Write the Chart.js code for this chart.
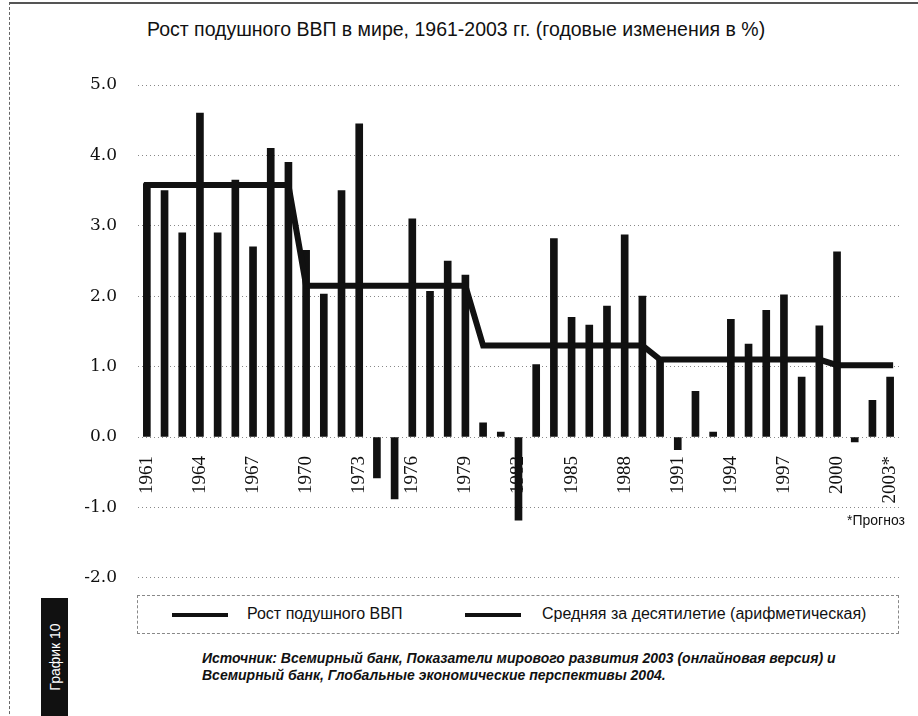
<!DOCTYPE html>
<html>
<head>
<meta charset="utf-8">
<script src="https://cdn.jsdelivr.net/npm/chart.js@4.4.0/dist/chart.umd.min.js"></script>
<style>
  body { margin: 0; background: #fff; font-family: "Liberation Sans", Arial, sans-serif; color: #111; }
  #wrap { position: relative; width: 918px; height: 716px; overflow: hidden; }
  #frame { position: absolute; left: 9px; top: 2px; width: 930px; height: 760px; border-left: 1px dashed #666; border-top: 2px solid #555; }
  #title { position: absolute; left: 147px; top: 18px; font-size: 19.5px; white-space: nowrap; }
  #box { position: absolute; left: 0; top: 0; width: 932px; height: 609px; }
  #legend { position: absolute; left: 137px; top: 595px; width: 760px; height: 37px; border: 1px dashed #888; background: #fff; }
  .sample { position: absolute; top: 17px; height: 4px; background: #111; }
  .ltext { position: absolute; top: 9px; font-size: 16px; white-space: nowrap; }
  #note { position: absolute; right: 13px; top: 512px; font-size: 14px; }
  #src { position: absolute; left: 202px; top: 650px; font-size: 14px; font-style: italic; font-weight: bold; line-height: 17px; white-space: nowrap; }
  #tag { position: absolute; left: 41px; top: 598px; width: 27px; height: 118px; background: #111; }
  #tag span { position: absolute; left: 50%; top: 50%; transform: translate(-50%, -50%) rotate(-90deg); color: #fff; font-size: 14px; white-space: nowrap; }
</style>
</head>
<body>
<div id="wrap">
  <div id="frame"></div>
  <div id="title">Рост подушного ВВП в мире, 1961-2003 гг. (годовые изменения в %)</div>
  <div id="box"><canvas id="chart"></canvas></div>
  <div id="note">*Прогноз</div>
  <div id="legend">
    <div class="sample" style="left:34px;width:56px"></div>
    <div class="ltext" style="left:109px">Рост подушного ВВП</div>
    <div class="sample" style="left:327px;width:56px"></div>
    <div class="ltext" style="left:404px">Средняя за десятилетие (арифметическая)</div>
  </div>
  <div id="src">Источник: Всемирный банк, Показатели мирового развития 2003 (онлайновая версия) и<br>Всемирный банк, Глобальные экономические перспективы 2004.</div>
  <div id="tag"><span>График 10</span></div>
</div>
<script>
// годы 1961-2003 (2003 - прогноз)
const years = ['1961','1962','1963','1964','1965','1966','1967','1968','1969','1970',
  '1971','1972','1973','1974','1975','1976','1977','1978','1979','1980',
  '1981','1982','1983','1984','1985','1986','1987','1988','1989','1990',
  '1991','1992','1993','1994','1995','1996','1997','1998','1999','2000',
  '2001','2002','2003*'];

// рост подушного ВВП, % в год
const growth = [3.6, 3.5, 2.9, 4.6, 2.9, 3.65, 2.7, 4.1, 3.9, 2.65,
  2.03, 3.5, 4.45, -0.58, -0.88, 3.1, 2.07, 2.5, 2.3, 0.2,
  0.07, -1.18, 1.03, 2.82, 1.7, 1.59, 1.86, 2.87, 2.0, 1.12,
  -0.18, 0.65, 0.07, 1.67, 1.32, 1.8, 2.02, 0.85, 1.58, 2.63,
  -0.07, 0.52, 0.85];

// средняя за десятилетие
const decadeAvg = [3.58, 3.58, 3.58, 3.58, 3.58, 3.58, 3.58, 3.58, 3.58, 2.15,
  2.15, 2.15, 2.15, 2.15, 2.15, 2.15, 2.15, 2.15, 2.15, 1.3,
  1.3, 1.3, 1.3, 1.3, 1.3, 1.3, 1.3, 1.3, 1.3, 1.1,
  1.1, 1.1, 1.1, 1.1, 1.1, 1.1, 1.1, 1.1, 1.1, 1.02,
  1.02, 1.02, 1.02];

// подписи по оси X - каждые 3 года
const shownYears = ['1961','1964','1967','1970','1973','1976','1979','1982','1985','1988','1991','1994','1997','2000','2003*'];

const ctx = document.getElementById('chart').getContext('2d');
new Chart(ctx, {
  data: {
    labels: years,
    datasets: [
      { type: 'line', label: 'Средняя за десятилетие (арифметическая)', data: decadeAvg,
        borderColor: '#111', borderWidth: 6, borderCapStyle: 'square', pointRadius: 0, tension: 0, order: 0 },
      { type: 'bar', label: 'Рост подушного ВВП', data: growth,
        backgroundColor: '#111', barThickness: 7, order: 1 }
    ]
  },
  options: {
    responsive: true,
    maintainAspectRatio: false,
    animation: false,
    layout: { padding: { left: 0, right: 6, top: 85, bottom: 15 } },
    plugins: { legend: { display: false }, tooltip: { enabled: false } },
    scales: {
      x: {
        position: { y: 0 },
        grid: { display: false, drawTicks: false },
        border: { display: false },
        ticks: {
          autoSkip: false, maxRotation: 90, minRotation: 90, padding: 19,
          color: '#111', font: { family: 'Liberation Serif', size: 19 },
          callback: function(v, i) {
            const lab = years[i];
            return shownYears.includes(lab) ? lab : '';
          }
        }
      },
      y: {
        min: -2, max: 5,
        afterFit: s => { s.width = 138; },
        grid: { color: '#888', lineWidth: 1, drawTicks: false },
        border: { display: false, dash: [1, 3] },
        ticks: {
          stepSize: 1, padding: 21, color: '#111',
          font: { family: 'DejaVu Serif', size: 17 },
          callback: v => v.toFixed(1)
        }
      }
    }
  }
});
</script>
</body>
</html>
